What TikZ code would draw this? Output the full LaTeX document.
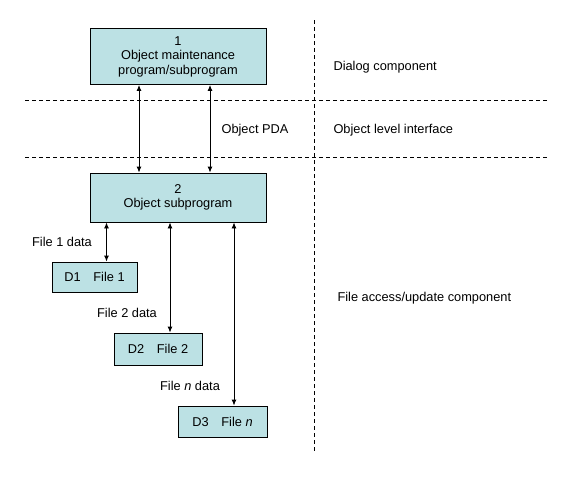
\documentclass[tikz,border=0pt]{standalone}
\usepackage{fontspec}
\setmainfont{Liberation Sans}
\usetikzlibrary{arrows.meta}
\definecolor{boxcyan}{RGB}{188,225,228}

\begin{document}
\begin{tikzpicture}[x=1pt,y=-1pt,node distance=141pt,auto,>={Latex[length=6pt,width=5pt]},font=\fontsize{12.8}{14.5}\selectfont]
		\tikzstyle{box} = [rectangle, draw, line width=0.9pt, fill=boxcyan, align=center, inner sep=0pt]
		\tikzstyle{sep} = [line width=0.8pt, dash pattern=on 4pt off 3pt]
		\tikzstyle{link} = [<->, line width=0.9pt]
		\useasboundingbox (0,0) rectangle (571,482);
		% layers
		\draw[sep] (25,100) -- (547,100);
		\draw[sep] (25,157) -- (547,157);
		\draw[sep] (314,20) -- (314,452);
		\node[anchor=west] (dlg) at (330,67) {Dialog component};
		\node[anchor=west] (oli) at (330,130) {Object level interface};
		\node[anchor=west] (fac) at (334,298) {File access/update component};
		% programs
		\node (b1) [box, minimum width=176pt, minimum height=56pt] at (178,56.5) {1\\Object maintenance\\program/subprogram};
		\node (b2) [box, below of=b1, minimum width=176pt, minimum height=49pt] {2\\Object subprogram};
		% files
		\node (d1) [box, minimum width=85pt, minimum height=30pt] at (94.5,277) {D1\quad File 1};
		\node (d2) [box, minimum width=88pt, minimum height=32pt] at (158,349) {D2\quad File 2};
		\node (d3) [box, minimum width=89pt, minimum height=31pt] at (222.5,421.5) {D3\quad File \textit{n}};
		\path ([xshift=12pt]d1.north) coordinate (t1);
		\path ([xshift=12pt]d2.north) coordinate (t2);
		\path ([xshift=11.5pt]d3.north) coordinate (t3);
		\draw[link] ([xshift=-39pt]b1.south) -- ([xshift=-39pt]b2.north);
		\draw[link] ([xshift=32pt]b1.south) -- ([xshift=32pt]b2.north);
		\draw[link] (b2.south -| t1) -- (t1);
		\draw[link] (b2.south -| t2) -- (t2);
		\draw[link] (b2.south -| t3) -- (t3);
		\node (pda) at (255,130) {Object PDA};
		\node (f1) at (62,242) {File 1 data};
		\node (f2) at (127,313) {File 2 data};
		\node (f3) at (190,386) {File \textit{n} data};
	\end{tikzpicture}
\end{document}
